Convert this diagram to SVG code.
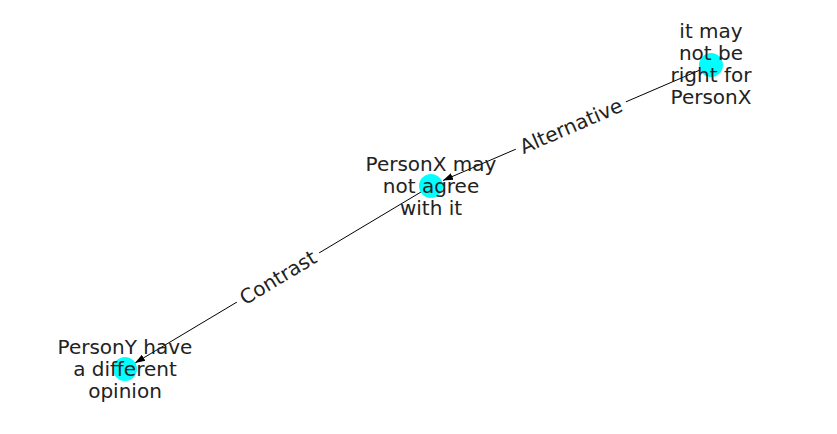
<svg xmlns="http://www.w3.org/2000/svg" width="837" height="434" viewBox="0 0 837 434">
<style>
.node{fill:#00ffff;}
.t{font-family:"DejaVu Sans",sans-serif;font-size:20px;fill:#222;text-anchor:middle;}
.e{stroke:#000;stroke-width:1;fill:none;}
.lb{fill:#fff;}
</style>
<defs>
<marker id="ah" viewBox="0 0 10 10" refX="10" refY="5" markerWidth="10" markerHeight="10" markerUnits="userSpaceOnUse" orient="auto">
<path d="M0,1.5 L10,5 L0,8.5 Z" fill="#000"/>
</marker>
</defs>
<rect width="837" height="434" fill="#fff"/>
<g id="connectors">
<line class="e" x1="700" y1="70" x2="443" y2="180.5" marker-end="url(#ah)"/>
<line class="e" x1="421" y1="192" x2="135" y2="363" marker-end="url(#ah)"/>
<g transform="translate(571,126) rotate(-23.4)">
<rect class="lb" x="-60" y="-12" width="120" height="24"/>
<text class="t" x="0" y="7">Alternative</text>
</g>
<g transform="translate(278,277.5) rotate(-30.9)">
<rect class="lb" x="-48" y="-12" width="96" height="24"/>
<text class="t" x="0" y="7">Contrast</text>
</g>
</g>
<g id="n1">
<circle class="node" cx="711" cy="65" r="12"/>
<text class="t" x="711" y="38">it may</text>
<text class="t" x="711" y="60">not be</text>
<text class="t" x="711" y="82">right for</text>
<text class="t" x="711" y="104">PersonX</text>
</g>
<g id="n2">
<circle class="node" cx="431" cy="186" r="12"/>
<text class="t" x="431" y="171">PersonX may</text>
<text class="t" x="431" y="193">not agree</text>
<text class="t" x="431" y="215">with it</text>
</g>
<g id="n3">
<circle class="node" cx="125" cy="369" r="12"/>
<text class="t" x="125" y="354">PersonY have</text>
<text class="t" x="125" y="376">a different</text>
<text class="t" x="125" y="398">opinion</text>
</g>
</svg>
